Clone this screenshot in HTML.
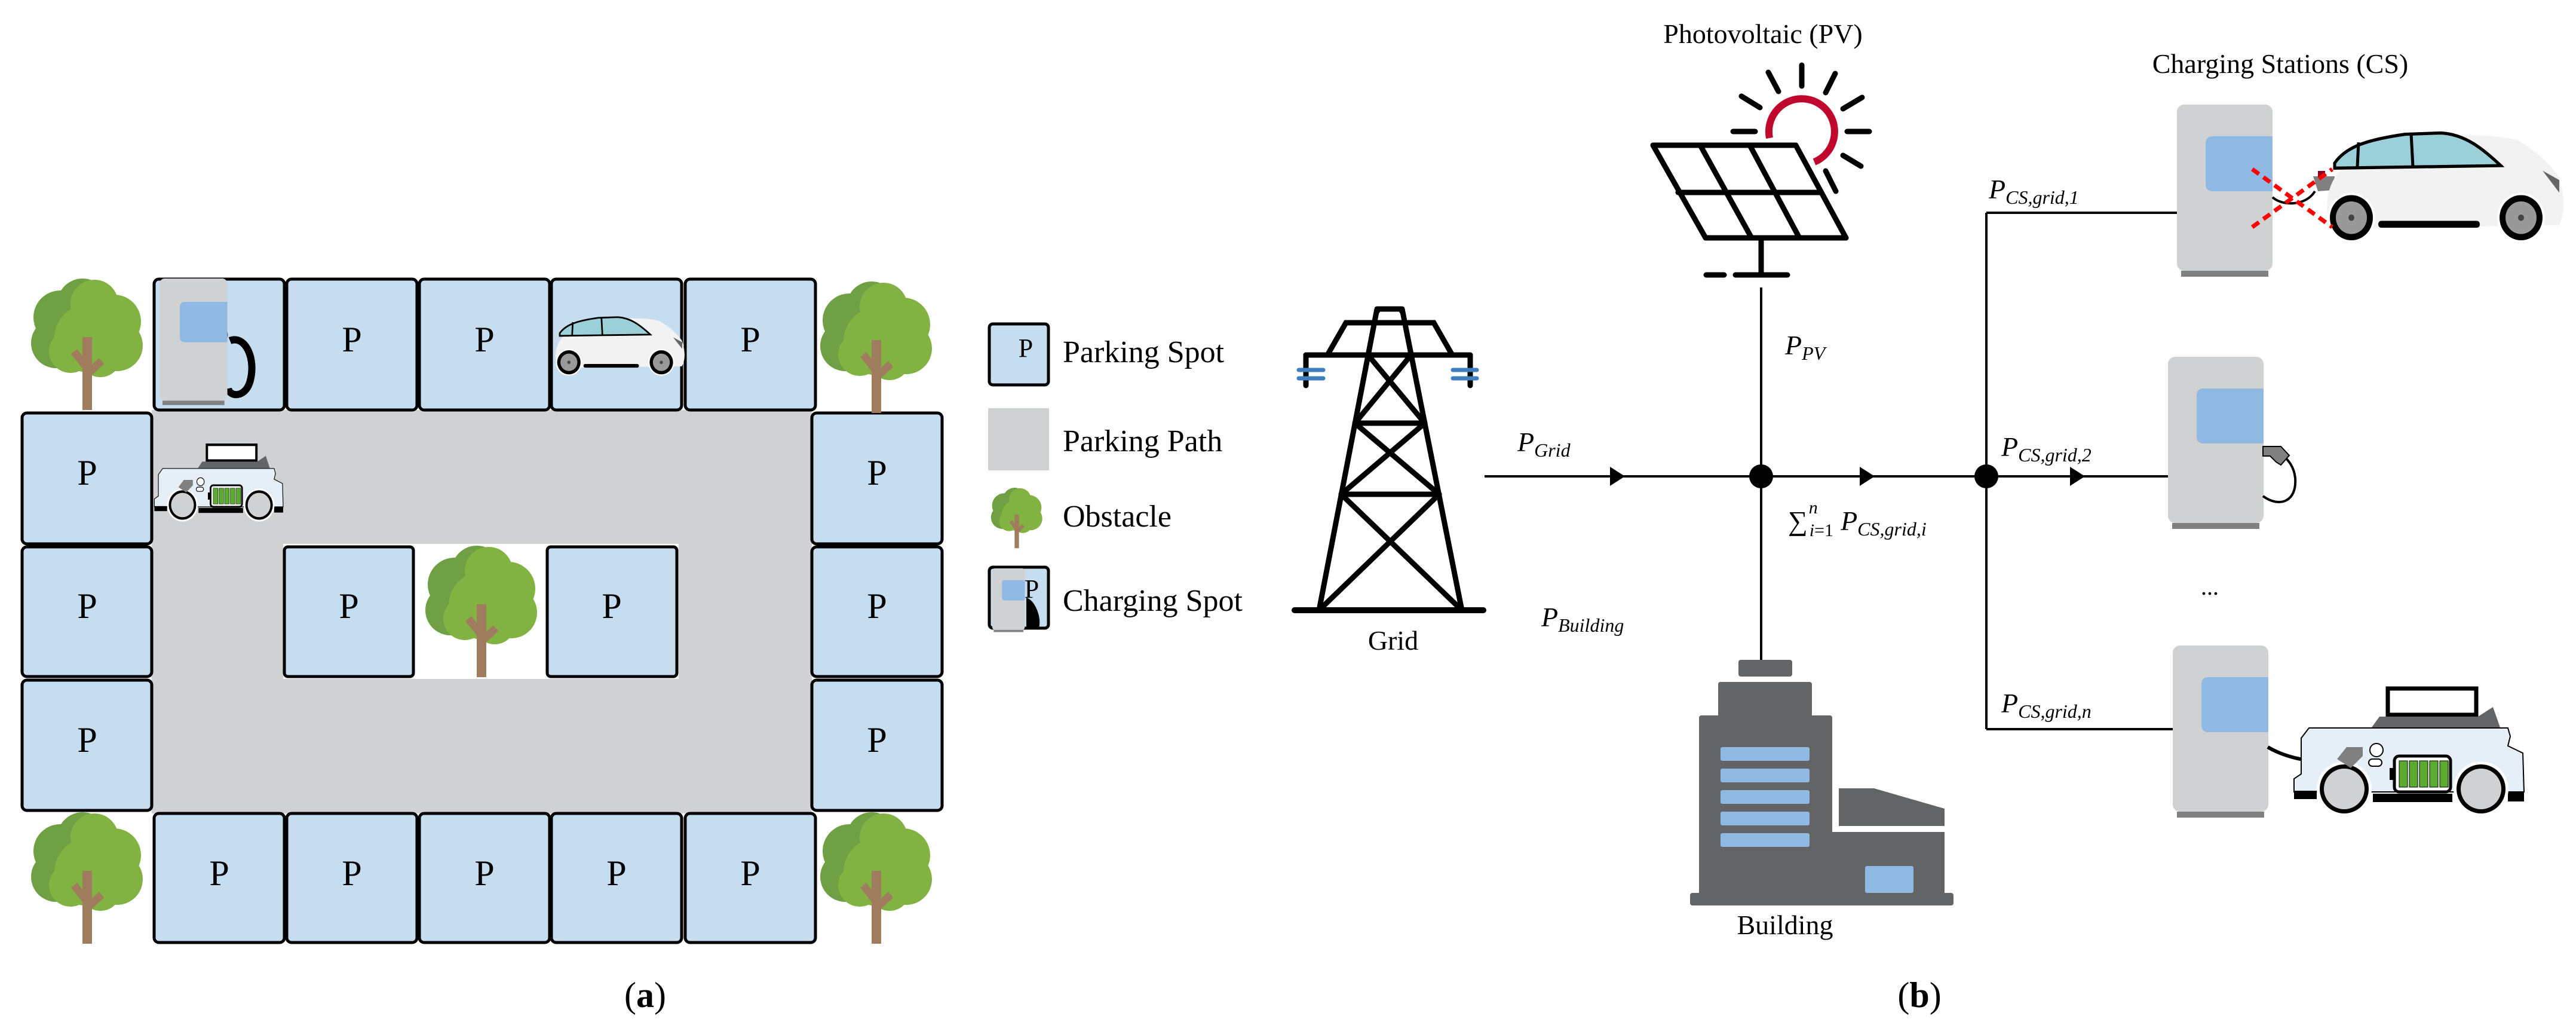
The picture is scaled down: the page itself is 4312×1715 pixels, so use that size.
<!DOCTYPE html>
<html><head><meta charset="utf-8"><style>
html,body{margin:0;padding:0;background:#fff;font-family:"Liberation Serif","DejaVu Serif",serif;}
svg{display:block;font-family:"Liberation Serif","DejaVu Serif",serif;}
svg text{font-family:"Liberation Serif","DejaVu Serif",serif;fill:#000;}
.m{font-style:italic;}
</style></head><body>
<svg width="4312" height="1715" viewBox="0 0 4312 1715" xmlns="http://www.w3.org/2000/svg" font-family="Liberation Serif, DejaVu Serif, serif">
<defs>
<symbol id="tree" viewBox="-100 0 200 225" width="200" height="225" overflow="visible">
  <circle cx="-45" cy="65" r="45" fill="#6fa043"/>
  <circle cx="-52" cy="108" r="42" fill="#6fa043"/>
  <circle cx="-8" cy="42" r="42" fill="#6fa043"/>
  <circle cx="12" cy="42" r="40" fill="#82b241"/>
  <circle cx="45" cy="72" r="45" fill="#82b241"/>
  <circle cx="50" cy="112" r="43" fill="#82b241"/>
  <circle cx="2" cy="100" r="57" fill="#82b241"/>
  <circle cx="-28" cy="122" r="36" fill="#82b241"/>
  <circle cx="22" cy="130" r="35" fill="#82b241"/>
  <rect x="-8" y="98" width="16" height="122" fill="#a07c5f"/>
  <line x1="0" y1="150" x2="-22" y2="122" stroke="#a07c5f" stroke-width="13"/>
  <line x1="0" y1="160" x2="24" y2="138" stroke="#a07c5f" stroke-width="13"/>
</symbol>
<symbol id="station" viewBox="0 0 160 290" width="160" height="290" overflow="visible">
  <rect x="0" y="0" width="160" height="278" rx="12" fill="#d0d1d3"/>
  <path d="M60 53 H160 V145 H60 Q48 145 48 133 V65 Q48 53 60 53 Z" fill="#8fb9e3"/>
  <rect x="7" y="278" width="146" height="10" fill="#808080"/>
</symbol>
<symbol id="car" viewBox="0 0 410 190" width="410" height="190" overflow="visible">
  <path d="M12 152 C2 112 18 72 50 55 C130 20 250 2 330 22 C362 42 382 58 397 80 C408 110 408 140 397 157 L12 162 Z" fill="#f2f2f2"/>
  <path d="M22 58 C42 30 82 20 140 12 L200 10 C240 12 270 35 300 62 L22 66 Z" fill="#9bd0d9" stroke="#000" stroke-width="5"/>
  <line x1="62" y1="25" x2="60" y2="64" stroke="#000" stroke-width="5"/>
  <line x1="150" y1="11" x2="153" y2="64" stroke="#000" stroke-width="5"/>
  <path d="M370 70 L398 85 L398 105 Z" fill="#666"/>
  <rect x="95" y="150" width="170" height="11" rx="5" fill="#000"/>
  <circle cx="50" cy="145" r="40" fill="#fff"/>
  <circle cx="334" cy="145" r="40" fill="#fff"/>
  <circle cx="50" cy="145" r="36" fill="#000"/>
  <circle cx="50" cy="145" r="26" fill="#999"/>
  <circle cx="50" cy="145" r="5" fill="#444"/>
  <circle cx="334" cy="145" r="36" fill="#000"/>
  <circle cx="334" cy="145" r="26" fill="#999"/>
  <circle cx="334" cy="145" r="5" fill="#444"/>
</symbol>
<symbol id="ev" viewBox="0 0 440 250" width="440" height="250" overflow="visible">
  <rect x="197" y="32" width="148" height="44" fill="#fff" stroke="#000" stroke-width="7"/>
  <polygon points="170,97 183,79 348,79 373,63 385,97" fill="#636466"/>
  <polygon points="52,115 65,98 398,98 402,112 398,128 423,140 425,205 40,205 40,183 52,175" fill="#e6eef8" stroke="#000" stroke-width="2"/>
  <rect x="40" y="203" width="38" height="14" fill="#000"/>
  <rect x="172" y="208" width="133" height="14" fill="#000"/>
  <rect x="398" y="205" width="27" height="16" fill="#000"/>
  <circle cx="124" cy="200" r="46" fill="#fff"/>
  <circle cx="353" cy="200" r="46" fill="#fff"/>
  <circle cx="124" cy="200" r="41" fill="#000"/>
  <circle cx="124" cy="200" r="34" fill="#d0d1d3"/>
  <circle cx="353" cy="200" r="41" fill="#000"/>
  <circle cx="353" cy="200" r="34" fill="#d0d1d3"/>
  <rect x="208" y="145" width="94" height="60" rx="8" fill="#fff" stroke="#000" stroke-width="5"/>
  <rect x="200" y="165" width="8" height="20" fill="#000"/>
  <rect x="216" y="153" width="14" height="44" fill="#5aab2e" stroke="#000" stroke-width="1"/>
  <rect x="233" y="153" width="14" height="44" fill="#5aab2e" stroke="#000" stroke-width="1"/>
  <rect x="250" y="153" width="14" height="44" fill="#5aab2e" stroke="#000" stroke-width="1"/>
  <rect x="267" y="153" width="14" height="44" fill="#5aab2e" stroke="#000" stroke-width="1"/>
  <rect x="284" y="153" width="14" height="44" fill="#5aab2e" stroke="#000" stroke-width="1"/>
  <circle cx="178" cy="135" r="11" fill="#fff" stroke="#000" stroke-width="2"/>
  <rect x="165" y="150" width="22" height="12" rx="6" fill="#fff" stroke="#000" stroke-width="2"/>
  <path d="M112 150 L128 130 L155 130 L155 145 L140 160 L135 165 Z" fill="#808080"/>
</symbol>
</defs>

<rect x="254" y="686" width="1105" height="675" fill="#d0d1d3"/>
<rect x="474" y="910" width="662" height="226" fill="#fff"/>

<g fill="#c6ddf0" stroke="#000" stroke-width="5">
  <rect x="258" y="467" width="218" height="219" rx="8"/>
  <rect x="480" y="467" width="218" height="219" rx="8"/>
  <rect x="702" y="467" width="218" height="219" rx="8"/>
  <rect x="923" y="467" width="218" height="219" rx="8"/>
  <rect x="1147" y="467" width="218" height="219" rx="8"/>
  <rect x="37" y="691" width="217" height="219" rx="8"/>
  <rect x="37" y="915" width="217" height="217" rx="8"/>
  <rect x="37" y="1138" width="217" height="218" rx="8"/>
  <rect x="1359" y="691" width="218" height="219" rx="8"/>
  <rect x="1359" y="915" width="218" height="217" rx="8"/>
  <rect x="1359" y="1138" width="218" height="218" rx="8"/>
  <rect x="258" y="1361" width="218" height="216" rx="8"/>
  <rect x="480" y="1361" width="218" height="216" rx="8"/>
  <rect x="702" y="1361" width="218" height="216" rx="8"/>
  <rect x="923" y="1361" width="218" height="216" rx="8"/>
  <rect x="1147" y="1361" width="218" height="216" rx="8"/>
  <rect x="476" y="915" width="216" height="217" rx="6"/>
  <rect x="916" y="915" width="217" height="217" rx="6"/>
</g>
<g font-size="60" text-anchor="middle" font-family="Liberation Serif, DejaVu Serif, serif">
  <text x="367" y="588">P</text>
  <text x="589" y="588">P</text>
  <text x="811" y="588">P</text>
  <text x="1256" y="588">P</text>
  <text x="146" y="811">P</text>
  <text x="146" y="1034">P</text>
  <text x="146" y="1258">P</text>
  <text x="1468" y="811">P</text>
  <text x="1468" y="1034">P</text>
  <text x="1468" y="1258">P</text>
  <text x="367" y="1481">P</text>
  <text x="589" y="1481">P</text>
  <text x="811" y="1481">P</text>
  <text x="1032" y="1481">P</text>
  <text x="1256" y="1481">P</text>
  <text x="584" y="1034">P</text>
  <text x="1024" y="1034">P</text>
</g>
<path d="M385 570 C410 560 430 600 418 640 C410 665 385 665 382 650" fill="none" stroke="#000" stroke-width="12"/>
<use href="#station" x="0" y="0" transform="translate(267,466) scale(0.71,0.735)"/>
<use href="#car" transform="translate(925,525) scale(0.545,0.56)"/>
<use href="#ev" transform="translate(236,725) scale(0.56,0.6)"/>
<use href="#tree" transform="translate(46,466)"/>
<use href="#tree" transform="translate(1367,471)"/>
<use href="#tree" transform="translate(46,1359)"/>
<use href="#tree" transform="translate(1367,1359)"/>
<use href="#tree" transform="translate(706,913)"/>

<text x="1080" y="1685" font-size="60" text-anchor="middle" font-family="Liberation Serif, DejaVu Serif, serif">(<tspan font-weight="bold">a</tspan>)</text>

<rect x="1656" y="542" width="99" height="102" rx="6" fill="#c6ddf0" stroke="#000" stroke-width="5"/>
<text x="1717" y="597" font-size="44" text-anchor="middle" font-family="Liberation Serif, DejaVu Serif, serif">P</text>
<rect x="1654" y="683" width="102" height="104" fill="#d0d1d3"/>
<use href="#tree" transform="translate(1656,816) scale(0.46)"/>
<rect x="1656" y="949" width="99" height="102" rx="6" fill="#c6ddf0" stroke="#000" stroke-width="5"/>
<text x="1727" y="1000" font-size="44" text-anchor="middle" font-family="Liberation Serif, DejaVu Serif, serif">P</text>
<path d="M1718 1000 C1735 1005 1745 1040 1738 1052 L1718 1052 Z" fill="#000"/>
<use href="#station" transform="translate(1661,951) scale(0.34,0.37)"/>
<g font-size="52" font-family="Liberation Serif, DejaVu Serif, serif">
  <text x="1779" y="606">Parking Spot</text>
  <text x="1779" y="755">Parking Path</text>
  <text x="1779" y="881">Obstacle</text>
  <text x="1779" y="1022">Charging Spot</text>
</g>

<g stroke="#000" stroke-width="9" stroke-linecap="round" fill="none">
  <polyline points="2305,521 2308,517 2344,517 2347,521"/>
  <line x1="2305" y1="517" x2="2208" y2="1021"/>
  <line x1="2347" y1="517" x2="2447" y2="1021"/>
  <polyline points="2222,594 2253,540 2400,540 2431,594"/>
  <line x1="2186" y1="594" x2="2461" y2="594"/>
  <line x1="2186" y1="594" x2="2186" y2="645"/>
  <line x1="2461" y1="594" x2="2461" y2="645"/>
  <line x1="2290" y1="594" x2="2385" y2="708"/>
  <line x1="2362" y1="594" x2="2268" y2="708"/>
  <line x1="2268" y1="708" x2="2385" y2="708"/>
  <line x1="2268" y1="708" x2="2409" y2="827"/>
  <line x1="2385" y1="708" x2="2245" y2="827"/>
  <line x1="2245" y1="827" x2="2409" y2="827"/>
  <line x1="2245" y1="827" x2="2447" y2="1021"/>
  <line x1="2409" y1="827" x2="2208" y2="1021"/>
  <line x1="2167" y1="1021" x2="2483" y2="1021" stroke-width="10"/>
</g>
<g stroke="#3f7fbf" stroke-width="7" stroke-linecap="round">
  <line x1="2174" y1="619" x2="2215" y2="619"/>
  <line x1="2174" y1="633" x2="2215" y2="633"/>
  <line x1="2432" y1="619" x2="2472" y2="619"/>
  <line x1="2432" y1="633" x2="2472" y2="633"/>
</g>
<text x="2332" y="1087" font-size="46" text-anchor="middle" font-family="Liberation Serif, DejaVu Serif, serif">Grid</text>

<text x="2951" y="72" font-size="46" text-anchor="middle" font-family="Liberation Serif, DejaVu Serif, serif">Photovoltaic (PV)</text>
<g stroke="#000" stroke-width="9" stroke-linecap="round" fill="none">
  <line x1="3016" y1="109" x2="3016" y2="144"/>
  <line x1="2960" y1="121" x2="2977" y2="153"/>
  <line x1="3072" y1="123" x2="3056" y2="155"/>
  <line x1="2915" y1="161" x2="2946" y2="180"/>
  <line x1="3117" y1="163" x2="3085" y2="182"/>
  <line x1="2901" y1="220" x2="2938" y2="220"/>
  <line x1="3092" y1="220" x2="3129" y2="220"/>
  <line x1="3085" y1="260" x2="3115" y2="278"/>
  <line x1="3056" y1="286" x2="3073" y2="320"/>
</g>
<path d="M2962 231 A55 55 0 1 1 3037 271" fill="none" stroke="#c0082e" stroke-width="12"/>
<g stroke="#000" stroke-width="9" stroke-linejoin="round" stroke-linecap="round" fill="none">
  <polygon points="2767,243 3006,243 3090,398 2855,398"/>
  <line x1="2809" y1="322" x2="3048" y2="322"/>
  <line x1="2846" y1="243" x2="2932" y2="398"/>
  <line x1="2929" y1="243" x2="3012" y2="398"/>
  <line x1="2948" y1="398" x2="2948" y2="460"/>
  <line x1="2856" y1="460" x2="2886" y2="460"/>
  <line x1="2905" y1="460" x2="2992" y2="460"/>
</g>

<g fill="#636466">
  <rect x="2910" y="1104" width="90" height="28" rx="4"/>
  <rect x="2876" y="1141" width="157" height="60" rx="4"/>
  <rect x="2844" y="1197" width="223" height="300" rx="4"/>
  <polygon points="3078,1319 3137,1319 3255,1353 3255,1382 3078,1382"/>
  <rect x="3067" y="1392" width="188" height="105"/>
  <rect x="2829" y="1494" width="441" height="21" rx="4"/>
</g>
<g fill="#8fb9e3">
  <rect x="2880" y="1250" width="149" height="23" rx="3"/>
  <rect x="2880" y="1286" width="149" height="23" rx="3"/>
  <rect x="2880" y="1322" width="149" height="23" rx="3"/>
  <rect x="2880" y="1358" width="149" height="23" rx="3"/>
  <rect x="2880" y="1394" width="149" height="23" rx="3"/>
  <rect x="3122" y="1449" width="81" height="45" rx="3"/>
</g>
<text x="2988" y="1563" font-size="46" text-anchor="middle" font-family="Liberation Serif, DejaVu Serif, serif">Building</text>

<g stroke="#000" stroke-width="4" fill="none">
  <line x1="2485" y1="797" x2="3632" y2="797"/>
  <line x1="2948" y1="481" x2="2948" y2="1104"/>
  <line x1="3325" y1="356" x2="3325" y2="1220"/>
  <line x1="3325" y1="356" x2="3644" y2="356"/>
  <line x1="3325" y1="1220" x2="3637" y2="1220"/>
</g>
<g fill="#000">
  <polygon points="2695,781 2720,797 2695,813"/>
  <polygon points="3113,781 3138,797 3113,813"/>
  <polygon points="3465,781 3490,797 3465,813"/>
  <circle cx="2948" cy="797" r="20"/>
  <circle cx="3325" cy="797" r="20"/>
</g>

<g font-size="46" font-family="Liberation Serif, DejaVu Serif, serif">
  <text x="2540" y="755" class="m">P<tspan font-size="32" dy="9">Grid</tspan></text>
  <text x="2580" y="1048" class="m">P<tspan font-size="32" dy="9">Building</tspan></text>
  <text x="2988" y="593" class="m">P<tspan font-size="32" dy="9">PV</tspan></text>
  <text x="2993" y="887">∑<tspan font-size="30" class="m" dx="2" dy="-28">n</tspan><tspan font-size="30" dx="-14" dy="38"><tspan class="m">i</tspan>=1</tspan><tspan class="m" dx="12" dy="-10">P</tspan><tspan font-size="32" class="m" dy="9">CS,grid,i</tspan></text>
  <text x="3329" y="332" class="m">P<tspan font-size="32" dy="9">CS,grid,1</tspan></text>
  <text x="3350" y="763" class="m">P<tspan font-size="32" dy="9">CS,grid,2</tspan></text>
  <text x="3350" y="1192" class="m">P<tspan font-size="32" dy="9">CS,grid,n</tspan></text>
</g>
<text x="3817" y="122" font-size="46" text-anchor="middle" font-family="Liberation Serif, DejaVu Serif, serif">Charging Stations (CS)</text>
<text x="3699" y="995" font-size="40" text-anchor="middle" font-family="Liberation Serif, DejaVu Serif, serif">...</text>

<use href="#station" transform="translate(3644,175)"/>
<use href="#station" transform="translate(3629,597)"/>
<use href="#station" transform="translate(3637,1080)"/>
<path d="M3788 830 C3815 850 3845 840 3842 800 C3840 780 3830 770 3822 762" fill="none" stroke="#000" stroke-width="4"/>
<path d="M3788 747 L3818 747 L3832 762 L3818 778 L3810 773 L3800 763 L3788 763 Z" fill="#808080" stroke="#000" stroke-width="2"/>
<path d="M3804 330 C3820 345 3860 345 3875 320" fill="none" stroke="#000" stroke-width="4"/>
<path d="M3872 295 L3908 295 L3908 318 L3880 320 Z" fill="#808080"/>
<rect x="3880" y="286" width="12" height="10" fill="#8b0020"/>
<use href="#car" transform="translate(3886,212) scale(1,1.05)"/>
<g stroke="#ff0000" stroke-width="7" stroke-dasharray="14 9">
  <line x1="3770" y1="283" x2="3904" y2="380"/>
  <line x1="3770" y1="380" x2="3904" y2="283"/>
</g>
<path d="M3796 1250 C3830 1270 3870 1275 3905 1275" fill="none" stroke="#000" stroke-width="6"/>
<use href="#ev" transform="translate(3800,1120)"/>

<text x="3213" y="1685" font-size="60" text-anchor="middle" font-family="Liberation Serif, DejaVu Serif, serif">(<tspan font-weight="bold">b</tspan>)</text>
</svg>
</body></html>
